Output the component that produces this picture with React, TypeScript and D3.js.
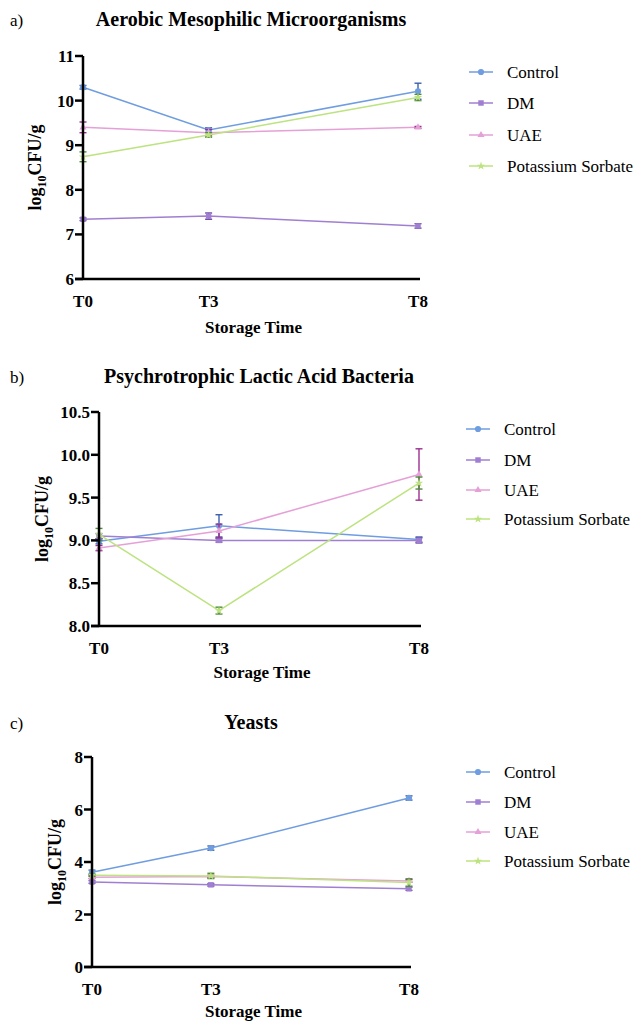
import React from "react";
import * as d3 from "d3";

const times = [0, 3, 8];
const timeLabels = ["T0", "T3", "T8"];
const seriesNames = ["Control", "DM", "UAE", "Potassium Sorbate"];

// Panel a) Aerobic Mesophilic Microorganisms
const aerobicMean = [
  [10.3, 9.34, 10.21],
  [7.34, 7.41, 7.19],
  [9.4, 9.28, 9.4],
  [8.74, 9.23, 10.07],
];
const aerobicErr = [
  [0.04, 0.05, 0.18],
  [0.03, 0.07, 0.05],
  [0.12, 0.07, 0.02],
  [0.11, 0.05, 0.07],
];
const aerobicTicks = [6, 7, 8, 9, 10, 11];

// Panel b) Psychrotrophic Lactic Acid Bacteria
const labMean = [
  [8.99, 9.17, 9.01],
  [9.05, 9.0, 9.0],
  [8.91, 9.11, 9.77],
  [9.07, 8.18, 9.67],
];
const labErr = [
  [0.03, 0.13, 0.03],
  [0.03, 0.02, 0.03],
  [0.03, 0.08, 0.3],
  [0.07, 0.04, 0.07],
];
const labTicks = [8.0, 8.5, 9.0, 9.5, 10.0, 10.5];

// Panel c) Yeasts
const yeastMean = [
  [3.61, 4.53, 6.44],
  [3.24, 3.13, 2.98],
  [3.42, 3.45, 3.28],
  [3.5, 3.47, 3.22],
];
const yeastErr = [
  [0.08, 0.08, 0.08],
  [0.05, 0.05, 0.06],
  [0.05, 0.05, 0.05],
  [0.04, 0.1, 0.14],
];
const yeastTicks = [0, 2, 4, 6, 8];

const lineColors = ["#6f9de0", "#a07fd2", "#e5a0d8", "#bce37f"];
const errColors = ["#3c5fae", "#6a469f", "#9c2f8e", "#4f8b3c"];
const symbols = [d3.symbolCircle, d3.symbolSquare, d3.symbolTriangle, d3.symbolStar];
const symbolSizes = [30, 30, 22, 22];

const FONT = "Liberation Serif, DejaVu Serif, serif";

type PanelProps = {
  letter: string;
  title: string;
  means: number[][];
  errs: number[][];
  ticks: number[];
  tickFmt: (v: number) => string;
  x0: number;
  x1: number;
  yTop: number;
  yBottom: number;
  titleY: number;
  titleX: number;
  yLabelX: number;
  legendX: number;
  legendY: number[];
  xLabelDy: number;
};

function Panel(p: PanelProps) {
  const x = d3.scaleLinear().domain([0, 8]).range([p.x0, p.x1]);
  const yDomain = d3.extent(p.ticks) as [number, number];
  const y = d3.scaleLinear().domain(yDomain).range([p.yBottom, p.yTop]);
  const line = d3
    .line<number>()
    .x((_, i) => x(times[i]))
    .y((v) => y(v));
  const yMid = (p.yTop + p.yBottom) / 2;
  const xMid = (p.x0 + p.x1) / 2 + 3;
  return (
    <g>
      <text x={10} y={p.titleY} fontFamily={FONT} fontSize={17}>
        {p.letter}
      </text>
      <text
        x={p.titleX}
        y={p.titleY}
        textAnchor="middle"
        fontFamily={FONT}
        fontWeight="bold"
        fontSize={20}
      >
        {p.title}
      </text>
      {p.means.map((vals, si) => (
        <g key={si}>
          <path d={line(vals) || ""} fill="none" stroke={lineColors[si]} strokeWidth={1.5} />
          {vals.map((v, i) => {
            const cx = x(times[i]);
            const e = p.errs[si][i];
            const ya = y(v + e);
            const yb = y(v - e);
            return (
              <g key={i}>
                <line x1={cx} x2={cx} y1={ya} y2={yb} stroke={errColors[si]} strokeWidth={1.4} />
                <line x1={cx - 3.5} x2={cx + 3.5} y1={ya} y2={ya} stroke={errColors[si]} strokeWidth={1.4} />
                <line x1={cx - 3.5} x2={cx + 3.5} y1={yb} y2={yb} stroke={errColors[si]} strokeWidth={1.4} />
                <path
                  d={d3.symbol(symbols[si], symbolSizes[si])() || ""}
                  transform={`translate(${cx},${y(v)})`}
                  fill={lineColors[si]}
                />
              </g>
            );
          })}
        </g>
      ))}
      <line x1={p.x0} x2={p.x0} y1={p.yTop} y2={p.yBottom} stroke="#000" strokeWidth={2.5} />
      <line x1={p.x0 - 8} x2={p.x1 + 2} y1={p.yBottom} y2={p.yBottom} stroke="#000" strokeWidth={2.5} />
      {p.ticks.map((t) => (
        <g key={t}>
          <line x1={p.x0 - 8} x2={p.x0} y1={y(t)} y2={y(t)} stroke="#000" strokeWidth={2.5} />
          <text
            x={p.x0 - 9}
            y={y(t) + 6}
            textAnchor="end"
            fontFamily={FONT}
            fontWeight="bold"
            fontSize={17}
          >
            {p.tickFmt(t)}
          </text>
        </g>
      ))}
      {times.map((t, i) => (
        <text
          key={t}
          x={x(t)}
          y={p.yBottom + 28}
          textAnchor="middle"
          fontFamily={FONT}
          fontWeight="bold"
          fontSize={17}
        >
          {timeLabels[i]}
        </text>
      ))}
      <text
        x={xMid}
        y={p.yBottom + p.xLabelDy}
        textAnchor="middle"
        fontFamily={FONT}
        fontWeight="bold"
        fontSize={17}
      >
        Storage Time
      </text>
      <text
        transform={`translate(${p.yLabelX},${yMid}) rotate(-90)`}
        textAnchor="middle"
        fontFamily={FONT}
        fontWeight="bold"
        fontSize={18}
      >
        log
        <tspan fontSize={12} dy={5}>
          10
        </tspan>
        <tspan dy={-5}>CFU/g</tspan>
      </text>
      {seriesNames.map((name, si) => {
        const ly = p.legendY[si];
        return (
          <g key={name}>
            <line
              x1={p.legendX}
              x2={p.legendX + 24}
              y1={ly}
              y2={ly}
              stroke={lineColors[si]}
              strokeWidth={1.5}
            />
            <path
              d={d3.symbol(symbols[si], symbolSizes[si])() || ""}
              transform={`translate(${p.legendX + 12},${ly})`}
              fill={lineColors[si]}
            />
            <text x={p.legendX + 38} y={ly + 6} fontFamily={FONT} fontSize={17}>
              {name}
            </text>
          </g>
        );
      })}
    </g>
  );
}

export default function App() {
  return (
    <svg
      width={640}
      height={1023}
      style={{ position: "absolute", left: 0, top: 0, background: "#fff" }}
    >
      <rect width={640} height={1023} fill="#fff" />
      <Panel
        letter="a)"
        title="Aerobic Mesophilic Microorganisms"
        means={aerobicMean}
        errs={aerobicErr}
        ticks={aerobicTicks}
        tickFmt={(v) => d3.format("d")(v)}
        x0={83}
        x1={418}
        yTop={56}
        yBottom={279}
        titleY={26}
        titleX={251}
        yLabelX={41}
        legendX={469}
        legendY={[72, 103, 135, 166]}
        xLabelDy={54}
      />
      <Panel
        letter="b)"
        title="Psychrotrophic Lactic Acid Bacteria"
        means={labMean}
        errs={labErr}
        ticks={labTicks}
        tickFmt={(v) => d3.format(".1f")(v)}
        x0={99}
        x1={419}
        yTop={412}
        yBottom={626}
        titleY={383}
        titleX={259}
        yLabelX={48}
        legendX={466}
        legendY={[429, 460, 490, 519]}
        xLabelDy={52}
      />
      <Panel
        letter="c)"
        title="Yeasts"
        means={yeastMean}
        errs={yeastErr}
        ticks={yeastTicks}
        tickFmt={(v) => d3.format("d")(v)}
        x0={92}
        x1={409}
        yTop={757}
        yBottom={967}
        titleY={729}
        titleX={251}
        yLabelX={61}
        legendX={466}
        legendY={[772, 802, 832, 861]}
        xLabelDy={50}
      />
    </svg>
  );
}
